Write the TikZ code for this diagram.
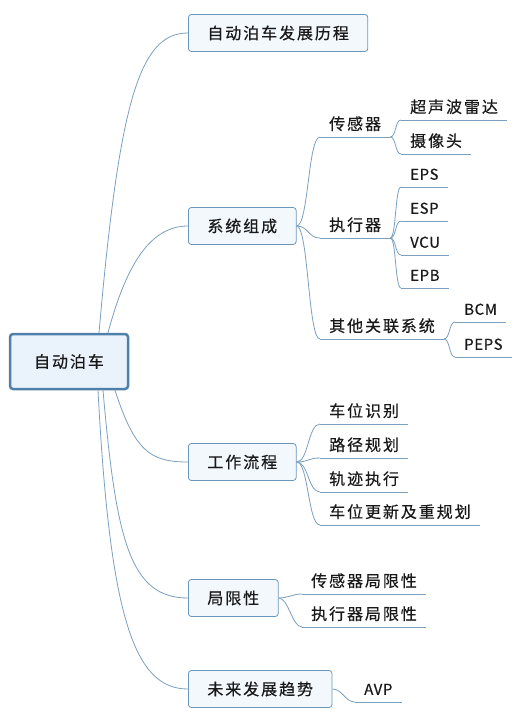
\documentclass[tikz,border=0pt]{standalone}
\usepackage{fontspec}
\setmainfont{Noto Sans CJK SC}[LetterSpace=12, FakeBold=0.4]
\newfontfamily\latinfont{Noto Sans CJK SC}[LetterSpace=4, FakeBold=0.4]

\definecolor{linkcol}{HTML}{7A9FBF}
\definecolor{rootline}{HTML}{4F80A9}
\definecolor{rootfill}{HTML}{EAF2FB}
\definecolor{boxline}{HTML}{6B97BC}
\definecolor{boxfill}{HTML}{F3F8FD}

\tikzset{
  txt/.style={font=\fontsize{16}{18}\selectfont, text=black!90},
  root/.style={txt, draw=rootline, line width=2.5pt, fill=rootfill,
    rounded corners=3pt, minimum width=118pt, minimum height=55pt},
  topic/.style={txt, draw=boxline, line width=0.8pt, fill=boxfill,
    rounded corners=3pt, minimum height=37pt, inner xsep=19pt, anchor=west},
  sub/.style={txt, anchor=south west, inner xsep=9pt, inner ysep=4pt,
    text height=12pt, text depth=3pt},
  code/.style={sub, font=\latinfont\fontsize{15}{18}\selectfont},
  link/.style={draw=linkcol, line width=0.8pt},
  hbend/.style={out=0, in=180, distance=#1}
}

\begin{document}
\begin{tikzpicture}[x=1pt, y=-1pt]
  \useasboundingbox (0,0) rectangle (520,722);

  \node[root](root) at (69,361.5){自动泊车};

  \node[topic](hist) at (188,33){自动泊车发展历程};
  \node[topic](sys) at (188,226){系统组成};
  \node[topic](flow) at (188,462){工作流程};
  \node[topic](lim) at (188,598){局限性};
  \node[topic](fut) at (188,689){未来发展趋势};

  % 系统组成
  \node[sub](sen) at (320,137){传感器};
  \node[sub](ult) at (401,120){超声波雷达};
  \node[sub](cam) at (401,154){摄像头};
  \node[sub](act) at (320,238){执行器};
  \node[code](eps) at (401,187){EPS};
  \node[code](esp) at (401,221){ESP};
  \node[code](vcu) at (401,255){VCU};
  \node[code](epb) at (401,288){EPB};
  \node[sub](oth) at (320,339){其他关联系统};
  \node[code](bcm) at (455,322){BCM};
  \node[code](peps) at (455,357){PEPS};

  % 工作流程
  \node[sub](spot) at (320,424){车位识别};
  \node[sub](route) at (320,458){路径规划};
  \node[sub](track) at (320,492){轨迹执行};
  \node[sub](upd) at (320,525){车位更新及重规划};

  % 局限性, 趋势
  \node[sub](senlim) at (302,594){传感器局限性};
  \node[sub](actlim) at (302,627){执行器局限性};
  \node[code](avp) at (355,702){AVP};

  \foreach \n in {sen,ult,cam,act,eps,esp,vcu,epb,oth,bcm,peps,
                  spot,route,track,upd,senlim,actlim,avp}
    \draw[link](\n.south west)--(\n.south east);

  \draw[link]([xshift=30pt]root.north) to[out=85,in=180,out distance=235pt,in distance=48pt](hist.west);
  \draw[link]([xshift=39pt]root.north) to[out=75,in=180,out distance=70pt,in distance=38pt](sys.west);
  \draw[link]([xshift=46pt]root.south) to[out=-72,in=180,out distance=64pt,in distance=38pt](flow.west);
  \draw[link]([xshift=34pt]root.south) to[out=-85,in=180,out distance=151pt,in distance=58pt](lim.west);
  \draw[link]([xshift=29pt]root.south) to[out=-87,in=180,out distance=231pt,in distance=53pt](fut.west);

  \foreach \n in {sen,act,oth}
    \draw[link](sys.east) to[hbend=12pt](\n.south west);
  \foreach \n in {ult,cam}
    \draw[link](sen.south east) to[hbend=6pt](\n.south west);
  \foreach \n in {eps,esp,vcu,epb}
    \draw[link](act.south east) to[hbend=6pt](\n.south west);
  \foreach \n in {bcm,peps}
    \draw[link](oth.south east) to[hbend=6pt](\n.south west);
  \foreach \n in {spot,route,track,upd}
    \draw[link](flow.east) to[hbend=12pt](\n.south west);
  \foreach \n in {senlim,actlim}
    \draw[link](lim.east) to[hbend=10pt](\n.south west);
  \draw[link](fut.east) to[hbend=10pt](avp.south west);
\end{tikzpicture}
\end{document}
